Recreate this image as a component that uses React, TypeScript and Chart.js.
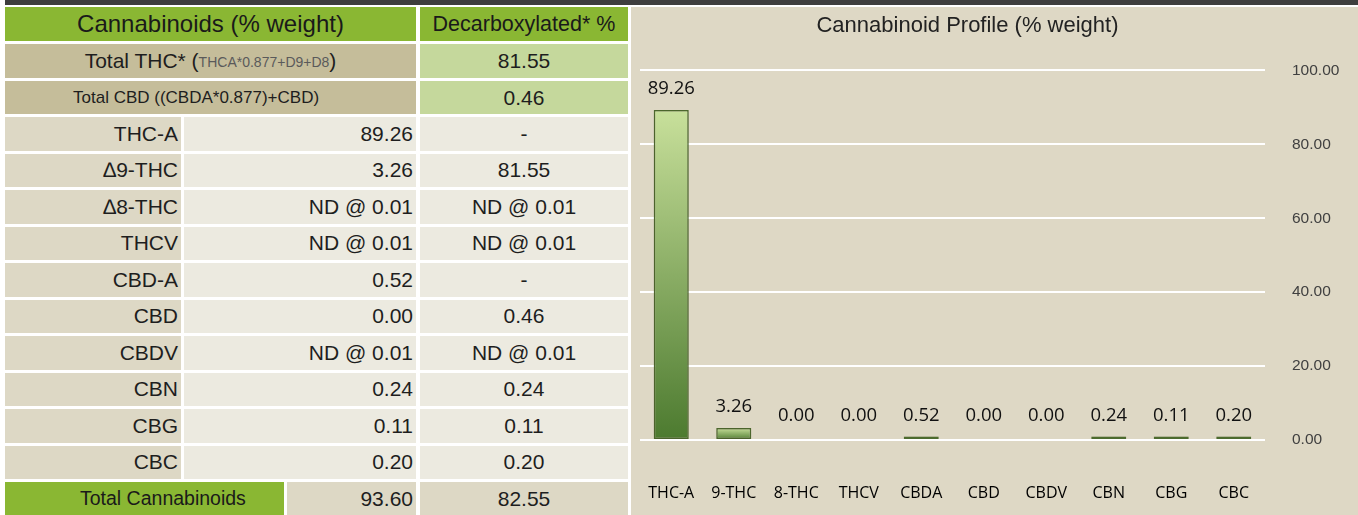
import React, { useEffect, useRef } from "react";
import { Chart, registerables } from "chart.js";

Chart.register(...registerables);

// ---------- chart data ----------
const categories = ["THC-A", "9-THC", "8-THC", "THCV", "CBDA", "CBD", "CBDV", "CBN", "CBG", "CBC"];
const values = [89.26, 3.26, 0, 0, 0.52, 0, 0, 0.24, 0.11, 0.2];
const yMin = 0;
const yMax = 100;
const yStep = 20;
const chartTitle = "Cannabinoid Profile (% weight)";

// ---------- table data ----------
const headerLeft = "Cannabinoids (% weight)";
const headerRight = "Decarboxylated* %";
const totalThcLabel = "Total THC*";
const totalThcFormula = "THCA*0.877+D9+D8";
const totalThcValue = "81.55";
const totalCbdLabel = "Total CBD ((CBDA*0.877)+CBD)";
const totalCbdValue = "0.46";
const rowLabels = ["THC-A", "\u22069-THC", "\u22068-THC", "THCV", "CBD-A", "CBD", "CBDV", "CBN", "CBG", "CBC"];
const rowMeasured = ["89.26", "3.26", "ND @ 0.01", "ND @ 0.01", "0.52", "0.00", "ND @ 0.01", "0.24", "0.11", "0.20"];
const rowDecarb = ["-", "81.55", "ND @ 0.01", "ND @ 0.01", "-", "0.46", "ND @ 0.01", "0.24", "0.11", "0.20"];
const totalLabel = "Total Cannabinoids";
const totalMeasured = "93.60";
const totalDecarb = "82.55";

const FONT = "'Liberation Sans', Arial, Helvetica, sans-serif";
const LABEL_FONT = "'Open Sans', 'Noto Sans', sans-serif";
const GREEN = "#8AB733";
const TAN = "#C5BD9A";
const LIGHTGREEN = "#C5D89C";
const LABELBG = "#DDD8C5";
const VALUEBG = "#ECEAE0";
const PANEL = "#DED8C5";

type CellProps = {
  l: number; t: number; w: number; h: number; bg: string;
  align?: "left" | "right" | "center"; pr?: number; pl?: number; size?: number; color?: string;
  children?: React.ReactNode;
};

function Cell({ l, t, w, h, bg, align = "center", pr = 0, pl = 0, size = 21, color = "#1e1e1e", children }: CellProps) {
  return (
    <div
      style={{
        position: "absolute", left: l, top: t, width: w, height: h, background: bg,
        display: "flex", alignItems: "center",
        justifyContent: align === "left" ? "flex-start" : align === "right" ? "flex-end" : "center",
        paddingRight: pr, paddingLeft: pl, boxSizing: "border-box",
        fontFamily: FONT, fontSize: size, color, whiteSpace: "nowrap", overflow: "hidden",
      }}
    >
      {children}
    </div>
  );
}

function ProfileChart() {
  const ref = useRef<HTMLCanvasElement | null>(null);
  useEffect(() => {
    if (!ref.current) return;
    const shadowPlugin = {
      id: "barShadow",
      beforeDatasetsDraw(chart: any) {
        const c = chart.ctx;
        c.save();
        c.shadowColor = "rgba(60,50,30,0.35)";
        c.shadowBlur = 7;
        c.shadowOffsetX = 0;
        c.shadowOffsetY = 0;
      },
      afterDatasetsDraw(chart: any) {
        chart.ctx.restore();
      },
    };
    const labelPlugin = {
      id: "valueLabels",
      afterDatasetsDraw(chart: any) {
        const c = chart.ctx;
        const meta = chart.getDatasetMeta(0);
        c.save();
        c.font = "18.5px " + LABEL_FONT;
        c.fillStyle = "#111";
        c.textAlign = "center";
        c.textBaseline = "middle";
        meta.data.forEach((el: any, i: number) => {
          const v = chart.data.datasets[0].data[i] as number;
          c.fillText(v.toFixed(2), el.x, el.y - 21);
        });
        c.restore();
      },
    };
    const chart = new Chart(ref.current, {
      type: "bar",
      data: {
        labels: categories,
        datasets: [
          {
            data: values,
            barPercentage: 0.56,
            categoryPercentage: 1,
            minBarLength: 3.5,
            borderColor: (ctx: any) => (ctx.raw === 0 ? "rgba(0,0,0,0)" : "#4D6B2E"),
            borderWidth: (ctx: any) => (ctx.raw === 0 ? 0 : 1.5),
            borderSkipped: false,
            backgroundColor: (ctx: any) => {
              const chart = ctx.chart;
              if (ctx.type !== "data") return "#8DB05A";
              if (ctx.raw === 0) return "rgba(0,0,0,0)";
              const ys = chart.scales?.y;
              if (!chart.chartArea || !ys) return "#8DB05A";
              const top = ys.getPixelForValue(ctx.raw);
              const base = ys.getPixelForValue(0);
              if (base - top < 4) return "#5A7A39";
              const g = chart.ctx.createLinearGradient(0, top, 0, base);
              g.addColorStop(0, "#C8E09B");
              g.addColorStop(1, "#4C7A2F");
              return g;
            },
          } as any,
        ],
      },
      options: {
        responsive: false,
        animation: false,
        layout: { padding: { left: 9, right: 17, top: 0, bottom: 13 } },
        plugins: {
          legend: { display: false },
          tooltip: { enabled: false },
          title: {
            display: true,
            text: chartTitle,
            color: "#222",
            font: { family: FONT, size: 22, weight: "normal" as any },
            padding: { top: 6, bottom: 31 },
          },
        },
        scales: {
          x: {
            grid: { display: false, drawTicks: false },
            border: { display: false },
            ticks: {
              color: "#000",
              font: { family: LABEL_FONT, size: 16 },
              padding: 44,
              maxRotation: 0,
              autoSkip: false,
            },
            afterFit: (s: any) => {
              s.height = 62;
              s.paddingLeft = 55;
              s.paddingRight = 0;
            },
          },
          y: {
            position: "right",
            min: yMin,
            max: yMax,
            grid: { color: "#FFFFFF", lineWidth: 2, drawTicks: false },
            border: { display: false },
            ticks: {
              stepSize: yStep,
              color: "#404040",
              font: { family: FONT, size: 15.5 },
              padding: 27,
              callback: (v: any) => Number(v).toFixed(2),
            },
            afterFit: (s: any) => {
              s.width = 76;
              s.paddingTop = 0;
              s.paddingBottom = 0;
            },
          },
        },
      },
      plugins: [shadowPlugin, labelPlugin],
    });
    return () => chart.destroy();
  }, []);
  return <canvas ref={ref} width={773} height={508} style={{ position: "absolute", left: 585, top: 7, width: 773, height: 508 }} />;
}

export default function App() {
  const rowTop = (i: number) => 117 + i * 36.5;
  const rowH = 33.5;
  return (
    <div style={{ position: "absolute", left: 0, top: 0, width: 1358, height: 515, background: "#fff", overflow: "hidden" }}>
      <div style={{ position: "absolute", left: 5, top: 0, width: 1353, height: 5, background: "#3E3E3E" }} />
      {/* header */}
      <Cell l={5} t={7} w={411} h={34} bg={GREEN} size={24} color="#1a1a1a">{headerLeft}</Cell>
      <Cell l={420} t={7} w={208} h={34} bg={GREEN} size={21.5} color="#1a1a1a">{headerRight}</Cell>
      {/* total THC */}
      <Cell l={5} t={44} w={411} h={34} bg={TAN} size={21}>
        <span>{totalThcLabel} (</span>
        <span style={{ fontSize: 14, color: "#5a5a5a", position: "relative", top: 1 }}>{totalThcFormula}</span>
        <span>)</span>
      </Cell>
      <Cell l={420} t={44} w={208} h={34} bg={LIGHTGREEN} size={21}>{totalThcValue}</Cell>
      {/* total CBD */}
      <Cell l={5} t={81} w={411} h={33} bg={TAN} align="left" pl={68} size={17}>{totalCbdLabel}</Cell>
      <Cell l={420} t={81} w={208} h={33} bg={LIGHTGREEN} size={21}>{totalCbdValue}</Cell>
      {/* data rows */}
      {rowLabels.map((lab, i) => (
        <React.Fragment key={lab}>
          <Cell l={5} t={rowTop(i)} w={176} h={rowH} bg={LABELBG} align="right" pr={3} size={21}>{lab}</Cell>
          <Cell l={184} t={rowTop(i)} w={232} h={rowH} bg={VALUEBG} align="right" pr={3} size={21}>{rowMeasured[i]}</Cell>
          <Cell l={420} t={rowTop(i)} w={208} h={rowH} bg={VALUEBG} size={21}>{rowDecarb[i]}</Cell>
        </React.Fragment>
      ))}
      {/* total row */}
      <Cell l={5} t={482} w={279} h={33} bg={GREEN} align="left" pl={75} size={19.5} color="#1a1a1a">{totalLabel}</Cell>
      <Cell l={287} t={482} w={129} h={33} bg={LABELBG} align="right" pr={3} size={21}>{totalMeasured}</Cell>
      <Cell l={420} t={482} w={208} h={33} bg={LABELBG} size={21}>{totalDecarb}</Cell>
      {/* chart panel */}
      <div style={{ position: "absolute", left: 631, top: 7, width: 727, height: 508, background: PANEL }} />
      <ProfileChart />
    </div>
  );
}
